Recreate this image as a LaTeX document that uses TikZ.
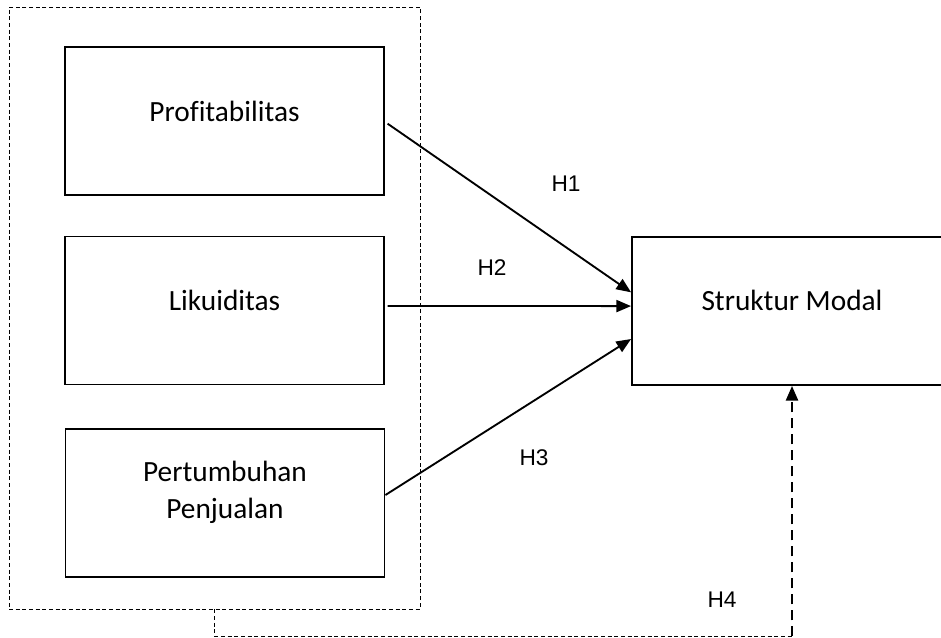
\documentclass[tikz,border=0pt]{standalone}
\usepackage{fontspec}
\setmainfont[Ligatures=NoCommon]{Carlito}
\newfontfamily\hypfont{Liberation Sans}
\usetikzlibrary{positioning, arrows.meta}
\tikzset{
  varbox/.style={draw, line width=1.4pt, minimum width=239.25pt, minimum height=111pt, inner sep=0pt},
  vartext/.style={font=\fontsize{22}{27.5}\selectfont, align=center, inner sep=0pt},
  hyp/.style={font=\hypfont\fontsize{17}{20}\selectfont, inner sep=0pt},
  effect/.style={-{Triangle[length=11pt,width=9pt]}, line width=1.4pt},
}

\begin{document}
\begin{tikzpicture}[x=0.75pt, y=-0.75pt]
        \useasboundingbox (0,0) rectangle (941,637);
        \clip (0,0) rectangle (941,637);

        % Frame round the independent variables
        \node[draw, dash pattern=on 3pt off 2pt, line width=0.7pt, minimum width=308.25pt, minimum height=451.5pt, inner sep=0pt] (frame) at (214.5,308) {};

        % Boxes
        \node[varbox] (prof) at (224.5,121) {};
        \node[varbox] (lik) at (224.5,310.5) {};
        \node[varbox] (pert) at (225,503) {};
        \node[varbox, minimum width=240pt] (sm) at (792,311) {};

        % Texts
        \node[vartext] (proftext) at ([yshift=7.5pt]prof.center) {Profitabilitas};
        \node[vartext] (liktext) at ([yshift=7.5pt]lik.center) {Likuiditas};
        \node[vartext] (perttext) at ([yshift=8pt]pert.center) {Pertumbuhan\\Penjualan};
        \node[vartext] (smtext) at ([yshift=8pt]sm.center) {Struktur Modal};

        % Edges
        \draw[effect] ([xshift=2pt,yshift=-2pt]prof.east) -- ([yshift=14pt]sm.west);
        \draw[effect] ([xshift=2pt,yshift=3.4pt]lik.east) -- ([yshift=3.7pt]sm.west);
        \draw[effect] ([yshift=6pt]pert.east) -- ([yshift=-21pt]sm.west);

        % Simultaneous effect
        \draw[dash pattern=on 3pt off 2pt, line width=0.7pt] (frame.south) -- ++(0,27) coordinate (turn) -- (turn -| sm.south) coordinate (corner);
        \draw[-{Triangle[length=11pt,width=9pt]}, dash pattern=on 7.5pt off 4.5pt, line width=1.8pt] (corner) -- (sm.south);

        % Labels
        \node[hyp] (h1) at (566,184) {H1};
        \node[hyp] (h2) at (492,268) {H2};
        \node[hyp] (h3) at (534,458) {H3};
        \node[hyp] (h4) at (722,600) {H4};
    \end{tikzpicture}
\end{document}
